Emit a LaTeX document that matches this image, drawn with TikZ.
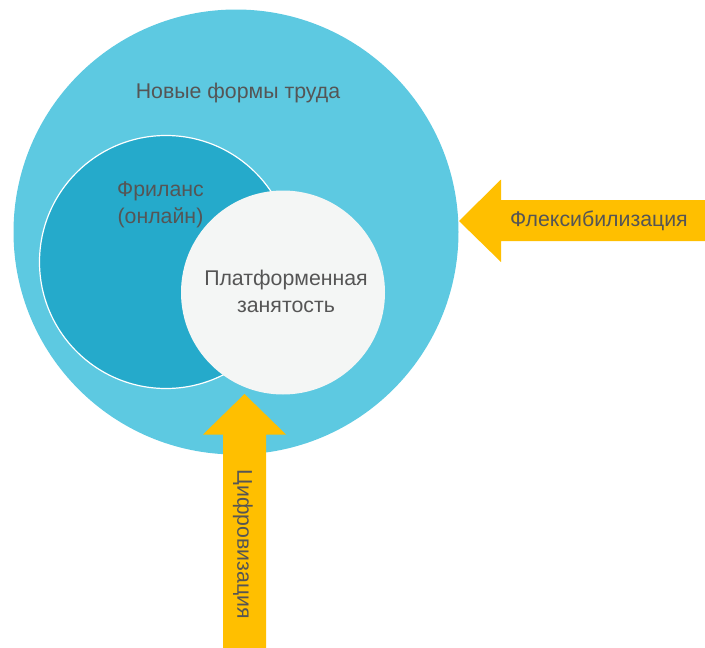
\documentclass[tikz,border=0pt]{standalone}
\usepackage{fontspec}
\setmainfont{Liberation Sans}
\definecolor{outerc}{HTML}{5DC9E1}
\definecolor{freec}{HTML}{25AACB}
\definecolor{platc}{HTML}{F4F6F5}
\definecolor{arrc}{HTML}{FFBF00}
\definecolor{txtc}{HTML}{555555}
\begin{document}
\begin{tikzpicture}[x=1pt,y=-1pt,
  lbl/.style={text=txtc,font=\fontsize{21.3}{26.5}\selectfont,align=center,inner sep=0pt},
  bigarrow/.style={fill=arrc,draw=none}]
\useasboundingbox (0,0) rectangle (705,648);
\clip (0,0) rectangle (705,648);
% outer circle
\fill[outerc] (236,232) circle (222.5);
% freelance circle
\filldraw[fill=freec,draw=white,line width=1.2pt] (166,262) circle (126.5);
% platform circle
\fill[platc] (283,292.5) circle (102);
% horizontal arrow (Flexibilization)
\fill[bigarrow] (459,221) -- (501,179.5) -- (501,200) -- (710,200) -- (710,241) -- (501,241) -- (501,262) -- cycle;
% vertical arrow (Digitalization)
\fill[bigarrow] (244.5,394) -- (286,434.5) -- (266,434.5) -- (266,652) -- (223,652) -- (223,434.5) -- (203,434.5) -- cycle;
% labels
\node[lbl] (outer) at (238,93) {Новые формы труда};
\node[lbl] (free) at (160.5,205) {Фриланс\\(онлайн)};
\node[lbl] (plat) at (286,291.5) {Платформенная\\занятость};
\node[lbl] (flex) at (599,221) {Флексибилизация};
\node[lbl,rotate=-90] (dig) at (243,544) {Цифровизация};
\end{tikzpicture}
\end{document}
